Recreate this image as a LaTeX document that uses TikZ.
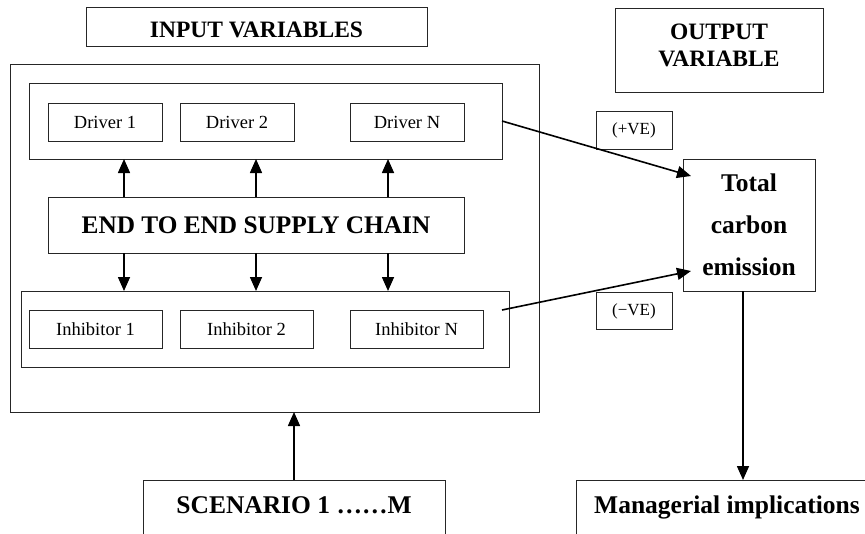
\documentclass[tikz,border=0pt]{standalone}
\usepackage{fontspec}
\setmainfont{Liberation Serif}
\usetikzlibrary{arrows.meta}
\begin{document}
\begin{tikzpicture}[x=1pt,y=-1pt,
  box/.style={draw=black!85, line width=0.9pt, inner sep=0pt, outer sep=0pt},
  small/.style={font=\fontsize{18.5}{20}\selectfont},
  big/.style={font=\fontsize{23.5}{27}\selectfont\bfseries},
  huge/.style={font=\fontsize{25.5}{42}\selectfont\bfseries},
  arr/.style={line width=1.6pt, -{Triangle[length=14pt,width=12pt]}}]
\useasboundingbox (0,0) rectangle (865,533);
% headers
\node[box, minimum width=341, minimum height=39] (inhead) at (256.5,26.5) {};
\node[big, anchor=base] (inheadt) at (256.5,37) {INPUT VARIABLES};
\node[box, minimum width=208, minimum height=84] (outhead) at (719,50) {};
\node[big, align=center, anchor=north] (outheadt) at (719,20) {OUTPUT\\VARIABLE};
% outer container
\node[box, minimum width=529, minimum height=348] (outer) at (274.5,238) {};
% drivers
\node[box, minimum width=473, minimum height=76] (drv) at (265.5,121) {};
\node[box, small, minimum width=114, minimum height=38] (d1) at (105,122) {Driver 1};
\node[box, small, minimum width=114, minimum height=38] (d2) at (237,122) {Driver 2};
\node[box, small, minimum width=114, minimum height=38] (dn) at (407,122) {Driver N};
% supply chain
\node[box, minimum width=416, minimum height=56, font=\fontsize{25.3}{28}\selectfont\bfseries] (sc) at (256,225) {END TO END SUPPLY CHAIN};
% inhibitors
\node[box, minimum width=488, minimum height=76] (inh) at (265,329) {};
\node[box, small, minimum width=133, minimum height=38] (i1) at (95.5,329) {Inhibitor 1};
\node[box, small, minimum width=133, minimum height=38] (i2) at (246.5,329) {Inhibitor 2};
\node[box, small, minimum width=133, minimum height=38] (in) at (416.5,329) {Inhibitor N};
% scenario
\node[box, minimum width=302, minimum height=100] (scen) at (294,530) {};
\node[huge, anchor=base] (scent) at (294,513) {SCENARIO 1 ……M};
% total carbon
\node[box, minimum width=132, minimum height=132] (tot) at (749,225) {};
\node[huge, align=center, anchor=north] (tott) at (749,170) {Total\\carbon\\emission};
% signs
\node[box, minimum width=76, minimum height=38, font=\fontsize{17}{18}\selectfont] (pve) at (634,130) {(+VE)};
\node[box, minimum width=76, minimum height=37, font=\fontsize{17}{18}\selectfont] (nve) at (634,311) {(−VE)};
% managerial
\node[box, minimum width=348, minimum height=100] (man) at (750,530) {};
\node[huge, anchor=base] (mant) at (727,513) {Managerial implications};
% arrows
\foreach \x in {124,256,388}{
  \draw[arr] (\x,197) -- (\x,159);
  \draw[arr] (\x,253) -- (\x,291);
}
\coordinate (a1) at (502,121);
\coordinate (a1e) at (691,176);
\draw[arr] (a1) -- (a1e);
\coordinate (a2) at (502,310);
\coordinate (a2e) at (691,271);
\draw[arr] (a2) -- (a2e);
\draw[arr] (scen.north) -- (scen.north |- outer.south);
\draw[arr] (tot.south -| 743,0) -- (man.north -| 743,0);
\end{tikzpicture}
\end{document}
